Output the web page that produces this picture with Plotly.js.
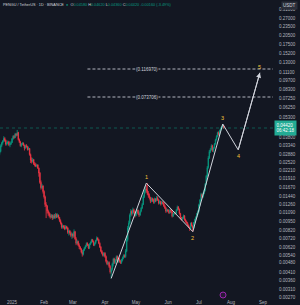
<!DOCTYPE html>
<html><head><meta charset="utf-8">
<script src="https://cdn.plot.ly/plotly-3.0.1.min.js"></script>
<style>html,body{margin:0;padding:0;background:#131722;}#chart{width:300px;height:305px;}</style>
</head><body><div id="chart"></div>
<script>
// Daily candles from 2024-12-20 to 2025-07-25
const startDate = '2024-12-20';
const opens = [
0.0290,0.0300,0.0330,0.0345,0.0355,0.0372,0.0360,0.0338,0.0345,0.0352,0.0335,0.0340,
0.0348,0.0370,0.0385,0.0378,0.0400,0.0392,0.0410,0.0365,0.0352,0.0330,0.0338,0.0345,0.0332,0.0318,0.0330,0.0325,0.0310,0.0315,0.0285,0.0260,0.0255,0.0262,0.0245,0.0240,0.0236,0.0240,0.0228,0.0210,0.0180,0.0165,0.0170,
0.0155,0.0142,0.0125,0.0122,0.0112,0.0108,0.0104,0.0102,0.0105,0.0100,0.0104,0.0101,0.0106,0.0102,0.0105,0.0101,0.0096,0.0092,0.0086,0.0088,0.0086,0.0084,0.0087,0.0085,0.0079,0.0081,0.0078,0.0075,
0.0077,0.0074,0.0080,0.0071,0.0066,0.0068,0.0064,0.0062,0.0060,0.0057,0.0055,0.0059,0.0061,0.0063,0.0066,0.0064,0.0061,0.0065,0.0067,0.0070,0.0068,0.0064,0.0066,0.0069,0.0072,0.0070,0.0066,0.0062,0.0058,0.0056,0.0054,
0.0056,0.0053,0.0049,0.0047,0.0048,0.0045,0.0041,0.0043,0.0047,0.0051,0.0048,0.0050,0.0053,0.0049,0.0051,0.0049,0.0048,0.0050,0.0052,0.0054,0.0053,0.0058,0.0070,0.0085,0.0092,0.0105,0.0112,0.0108,0.0115,0.0110,
0.0104,0.0110,0.0114,0.0108,0.0105,0.0112,0.0118,0.0125,0.0142,0.0155,0.0162,0.0158,0.0150,0.0145,0.0140,0.0132,0.0138,0.0135,0.0130,0.0137,0.0133,0.0140,0.0135,0.0128,0.0132,0.0126,0.0130,0.0128,0.0122,0.0118,0.0112,
0.0115,0.0112,0.0109,0.0115,0.0111,0.0103,0.0107,0.0110,0.0108,0.0114,0.0120,0.0116,0.0108,0.0101,0.0098,0.0100,0.0104,0.0097,0.0094,0.0092,0.0089,0.0086,0.0084,0.0092,0.0088,0.0085,0.0093,0.0098,0.0102,0.0108,
0.0112,0.0125,0.0135,0.0148,0.0142,0.0150,0.0158,0.0175,0.0200,0.0230,0.0270,0.0300,0.0310,0.0330,0.0305,0.0318,0.0340,0.0365,0.0385,0.0410,0.0398,0.0425,0.0440,0.0450,0.0458
];
const highs = [
0.0312,0.0338,0.0352,0.0362,0.0386,0.0380,0.0365,0.0352,0.0360,0.0356,0.0346,0.0356,
0.0375,0.0392,0.0394,0.0408,0.0406,0.0428,0.0415,0.0372,0.0358,0.0345,0.0350,0.0348,0.0336,0.0336,0.0338,0.0330,0.0325,0.0318,0.0290,0.0272,0.0270,0.0265,0.0252,0.0248,0.0244,0.0243,0.0230,0.0214,0.0186,0.0176,0.0172,
0.0158,0.0145,0.0130,0.0124,0.0115,0.0111,0.0108,0.0107,0.0106,0.0106,0.0107,0.0109,0.0108,0.0108,0.0106,0.0102,0.0098,0.0093,0.0090,0.0089,0.0089,0.0089,0.0088,0.0086,0.0083,0.0082,0.0080,0.0079,
0.0078,0.0083,0.0081,0.0073,0.0070,0.0069,0.0066,0.0063,0.0061,0.0059,0.0060,0.0062,0.0064,0.0067,0.0067,0.0065,0.0066,0.0068,0.0071,0.0071,0.0069,0.0067,0.0070,0.0074,0.0073,0.0071,0.0067,0.0063,0.0059,0.0057,0.0057,
0.0057,0.0054,0.0050,0.0049,0.0049,0.0046,0.0044,0.0048,0.0052,0.0052,0.0051,0.0054,0.0054,0.0052,0.0052,0.0050,0.0051,0.0053,0.0055,0.0055,0.0060,0.0074,0.0088,0.0096,0.0108,0.0116,0.0114,0.0119,0.0117,0.0112,
0.0113,0.0117,0.0115,0.0110,0.0114,0.0120,0.0128,0.0146,0.0160,0.0170,0.0172,0.0178,0.0156,0.0150,0.0142,0.0141,0.0140,0.0138,0.0140,0.0139,0.0144,0.0143,0.0137,0.0134,0.0133,0.0133,0.0132,0.0130,0.0125,0.0120,0.0117,
0.0116,0.0114,0.0117,0.0116,0.0113,0.0109,0.0112,0.0111,0.0116,0.0123,0.0122,0.0117,0.0109,0.0102,0.0102,0.0106,0.0105,0.0099,0.0096,0.0094,0.0090,0.0087,0.0093,0.0094,0.0089,0.0094,0.0099,0.0103,0.0109,0.0114,
0.0127,0.0137,0.0152,0.0150,0.0153,0.0161,0.0178,0.0204,0.0236,0.0278,0.0308,0.0318,0.0338,0.0335,0.0322,0.0345,0.0370,0.0392,0.0416,0.0418,0.0430,0.0446,0.0458,0.0472,0.0462
];
const lows = [
0.0282,0.0296,0.0322,0.0336,0.0350,0.0352,0.0330,0.0332,0.0340,0.0328,0.0322,0.0334,
0.0345,0.0364,0.0370,0.0374,0.0384,0.0388,0.0360,0.0345,0.0325,0.0322,0.0333,0.0328,0.0305,0.0314,0.0320,0.0305,0.0306,0.0280,0.0248,0.0246,0.0250,0.0240,0.0234,0.0232,0.0231,0.0225,0.0198,0.0176,0.0160,0.0162,0.0150,
0.0138,0.0120,0.0100,0.0108,0.0104,0.0101,0.0099,0.0100,0.0097,0.0098,0.0099,0.0099,0.0100,0.0101,0.0099,0.0094,0.0090,0.0084,0.0084,0.0084,0.0082,0.0083,0.0083,0.0077,0.0075,0.0076,0.0073,0.0071,
0.0072,0.0073,0.0070,0.0064,0.0065,0.0063,0.0060,0.0059,0.0056,0.0053,0.0054,0.0058,0.0060,0.0062,0.0063,0.0060,0.0060,0.0064,0.0066,0.0067,0.0063,0.0063,0.0065,0.0068,0.0069,0.0065,0.0061,0.0057,0.0055,0.0053,0.0053,
0.0052,0.0048,0.0046,0.0046,0.0044,0.0040,0.0037,0.0042,0.0045,0.0047,0.0047,0.0049,0.0048,0.0048,0.0048,0.0047,0.0047,0.0049,0.0051,0.0052,0.0052,0.0057,0.0068,0.0082,0.0090,0.0102,0.0104,0.0106,0.0108,0.0101,
0.0103,0.0108,0.0106,0.0102,0.0104,0.0110,0.0116,0.0124,0.0139,0.0150,0.0152,0.0146,0.0140,0.0136,0.0128,0.0130,0.0131,0.0127,0.0127,0.0130,0.0132,0.0133,0.0125,0.0126,0.0123,0.0125,0.0125,0.0120,0.0116,0.0109,0.0111,
0.0110,0.0107,0.0108,0.0109,0.0101,0.0102,0.0106,0.0106,0.0107,0.0113,0.0114,0.0106,0.0098,0.0096,0.0097,0.0099,0.0096,0.0093,0.0091,0.0088,0.0085,0.0081,0.0083,0.0087,0.0080,0.0084,0.0092,0.0097,0.0101,0.0105,
0.0110,0.0122,0.0133,0.0139,0.0140,0.0148,0.0155,0.0172,0.0197,0.0226,0.0265,0.0292,0.0305,0.0298,0.0296,0.0315,0.0336,0.0360,0.0380,0.0390,0.0394,0.0418,0.0432,0.0445,0.0436
];
const closes = [
0.0300,0.0330,0.0345,0.0355,0.0372,0.0360,0.0338,0.0345,0.0352,0.0335,0.0340,0.0348,
0.0370,0.0385,0.0378,0.0400,0.0392,0.0410,0.0365,0.0352,0.0330,0.0338,0.0345,0.0332,0.0318,0.0330,0.0325,0.0310,0.0315,0.0285,0.0260,0.0255,0.0262,0.0245,0.0240,0.0236,0.0240,0.0228,0.0210,0.0180,0.0165,0.0170,0.0155,
0.0142,0.0125,0.0122,0.0112,0.0108,0.0104,0.0102,0.0105,0.0100,0.0104,0.0101,0.0106,0.0102,0.0105,0.0101,0.0096,0.0092,0.0086,0.0088,0.0086,0.0084,0.0087,0.0085,0.0079,0.0081,0.0078,0.0075,0.0077,
0.0074,0.0080,0.0071,0.0066,0.0068,0.0064,0.0062,0.0060,0.0057,0.0055,0.0059,0.0061,0.0063,0.0066,0.0064,0.0061,0.0065,0.0067,0.0070,0.0068,0.0064,0.0066,0.0069,0.0072,0.0070,0.0066,0.0062,0.0058,0.0056,0.0054,0.0056,
0.0053,0.0049,0.0047,0.0048,0.0045,0.0041,0.0043,0.0047,0.0051,0.0048,0.0050,0.0053,0.0049,0.0051,0.0049,0.0048,0.0050,0.0052,0.0054,0.0053,0.0058,0.0070,0.0085,0.0092,0.0105,0.0112,0.0108,0.0115,0.0110,0.0104,
0.0110,0.0114,0.0108,0.0105,0.0112,0.0118,0.0125,0.0142,0.0155,0.0162,0.0158,0.0150,0.0145,0.0140,0.0132,0.0138,0.0135,0.0130,0.0137,0.0133,0.0140,0.0135,0.0128,0.0132,0.0126,0.0130,0.0128,0.0122,0.0118,0.0112,0.0115,
0.0112,0.0109,0.0115,0.0111,0.0103,0.0107,0.0110,0.0108,0.0114,0.0120,0.0116,0.0108,0.0101,0.0098,0.0100,0.0104,0.0097,0.0094,0.0092,0.0089,0.0086,0.0084,0.0092,0.0088,0.0085,0.0093,0.0098,0.0102,0.0108,0.0112,
0.0125,0.0135,0.0148,0.0142,0.0150,0.0158,0.0175,0.0200,0.0230,0.0270,0.0300,0.0310,0.0330,0.0305,0.0318,0.0340,0.0365,0.0385,0.0410,0.0398,0.0425,0.0440,0.0450,0.0458,0.0442
];

// Elliott wave path
const waveDates  = ['2025-04-07','2025-05-11','2025-06-25','2025-07-24','2025-08-08','2025-08-29'];
const wavePrices = [0.0037, 0.0178, 0.0080, 0.0472, 0.0308, 0.1100];
const waveLabels = ['', '1', '2', '3', '4', '5'];
const waveLabelSide = [0, 1, -1, 1, -1, 1];

// Target levels
const levelPrices = [0.116970, 0.073706];
const levelStart = '2025-03-15';
const levelLabelDate = '2025-05-12';

// Axes
const priceTicks = [0.31,0.27,0.235,0.205,0.175,0.152,0.13,0.111,0.097,0.083,0.0725,0.0625,0.053,0.038,0.0334,0.0288,0.0252,0.0221,0.0191,0.0167,0.0144,0.0126,0.0109,0.0095,0.0082,0.0072,0.0062,0.0054,0.0048,0.0041,0.0036,0.0031,0.0027];
const monthTicks  = ['2025-01-01','2025-02-01','2025-03-01','2025-04-01','2025-05-01','2025-06-01','2025-07-01','2025-08-01','2025-09-01'];
const monthLabels = ['2025','Feb','Mar','Apr','May','Jun','Jul','Aug','Sep'];

const dates = opens.map((_, i) => {
  const d = new Date(Date.UTC(2024, 11, 20 + i));
  return d.toISOString().slice(0, 10);
});
const n = closes.length;
const lastClose = closes[n - 1];
const lastOpen = opens[n - 1];
const xStart = '2024-12-20 08:00', xEnd = '2025-09-10 16:00';
const L = Math.log10;

const up = '#089981', dn = '#f23645';
const traces = [];
traces.push({
  type: 'candlestick', x: dates, open: opens, high: highs, low: lows, close: closes,
  increasing: {line: {color: up, width: 0.8}, fillcolor: up},
  decreasing: {line: {color: dn, width: 0.8}, fillcolor: dn},
  whiskerwidth: 0, hoverinfo: 'skip'
});
// current price line
traces.push({type: 'scatter', mode: 'lines', x: [xStart, xEnd], y: [lastClose, lastClose],
  line: {color: 'rgba(8,153,129,0.5)', width: 1, dash: 'dot'}, hoverinfo: 'skip'});
// target levels
levelPrices.forEach(p => traces.push({type: 'scatter', mode: 'lines', x: [levelStart, xEnd], y: [p, p],
  line: {color: '#b2b5be', width: 1, dash: '3px,2px'}, hoverinfo: 'skip'}));
// wave path
traces.push({type: 'scatter', mode: 'lines', x: waveDates, y: wavePrices,
  line: {color: '#d1d4dc', width: 1}, hoverinfo: 'skip'});

const annotations = [];
levelPrices.forEach(p => annotations.push({x: levelLabelDate, y: L(p), xref: 'x', yref: 'y',
  text: '(' + p.toFixed(6) + ')', showarrow: false, font: {size: 4.5, color: '#d1d4dc', family: 'Liberation Sans'},
  bgcolor: '#131722', borderpad: 0}));
waveLabels.forEach((t, i) => { if (!t) return;
  annotations.push({x: waveDates[i], y: L(wavePrices[i]), xref: 'x', yref: 'y', text: t, showarrow: false,
    yshift: waveLabelSide[i] * 6, font: {size: 5.5, color: '#f5c33b', family: 'Liberation Sans'}});
});
// arrow head on last wave leg
annotations.push({x: waveDates[5], y: L(wavePrices[5]), ax: waveDates[4], ay: L(wavePrices[4]),
  xref: 'x', yref: 'y', axref: 'x', ayref: 'y', text: '', showarrow: true, arrowhead: 2, arrowsize: 1,
  arrowwidth: 1, arrowcolor: '#d1d4dc', standoff: 0});
// header
annotations.push({xref: 'paper', yref: 'paper', x: 0, y: 1, xanchor: 'left', yanchor: 'top', xshift: 1, yshift: -1,
  showarrow: false, align: 'left', font: {size: 3.8, color: '#d1d4dc', family: 'Liberation Sans'},
  text: 'PENGU / TetherUS · 1D · BINANCE  <span style="color:#089981">●</span>  O<span style="color:#089981">' + lastOpen.toFixed(5) +
   '</span> H<span style="color:#089981">' + highs[n-1].toFixed(5) + '</span> L<span style="color:#089981">' + lows[n-1].toFixed(5) +
   '</span> C<span style="color:#089981">' + lastClose.toFixed(5) + ' ' + (lastClose - lastOpen).toFixed(5) + ' (' + ((lastClose - lastOpen) / lastOpen * 100).toFixed(2) + '%)</span>'});
// currency label
annotations.push({xref: 'paper', yref: 'paper', x: 1, y: 1, xanchor: 'left', yanchor: 'top', xshift: 8, yshift: -1,
  showarrow: false, text: 'USDT', font: {size: 4.5, color: '#d1d4dc', family: 'Liberation Sans'}, bgcolor: '#2a2e39', borderpad: 1});
// current price tag
annotations.push({xref: 'paper', yref: 'y', x: 1, y: L(lastClose), xanchor: 'left', yanchor: 'middle', xshift: 1,
  showarrow: false, text: lastClose.toFixed(5) + '<br>06:42:18', align: 'left',
  font: {size: 4.5, color: '#ffffff', family: 'Liberation Sans'}, bgcolor: '#22ab94', borderpad: 1.5});

const layout = {
  width: 300, height: 305,
  paper_bgcolor: '#131722', plot_bgcolor: '#131722',
  margin: {l: 0, r: 27, t: 0, b: 7},
  showlegend: false,
  xaxis: {type: 'date', range: [xStart, xEnd], tickmode: 'array', tickvals: monthTicks, ticktext: monthLabels,
    tickfont: {size: 4.5, color: '#b2b5be', family: 'Liberation Sans'}, showgrid: false, zeroline: false,
    ticks: '', showline: false, rangeslider: {visible: false}, fixedrange: true},
  yaxis: {type: 'log', side: 'right', range: [-2.5723, -0.4377], tickmode: 'array', tickvals: priceTicks,
    ticktext: priceTicks.map(v => v.toFixed(5)), tickfont: {size: 4.5, color: '#b2b5be', family: 'Liberation Sans'},
    showgrid: false, zeroline: false, ticks: '', showline: false, fixedrange: true, ticklabelstandoff: 5},
  annotations: annotations,
  shapes: [{type: 'circle', xref: 'paper', yref: 'paper', x0: 0.806, x1: 0.828, y0: 0.0, y1: 0.02,
    line: {color: '#9c27b0', width: 1}, fillcolor: 'rgba(156,39,176,0.15)'}]
};
Plotly.newPlot('chart', traces, layout, {staticPlot: true, displayModeBar: false});
</script></body></html>
